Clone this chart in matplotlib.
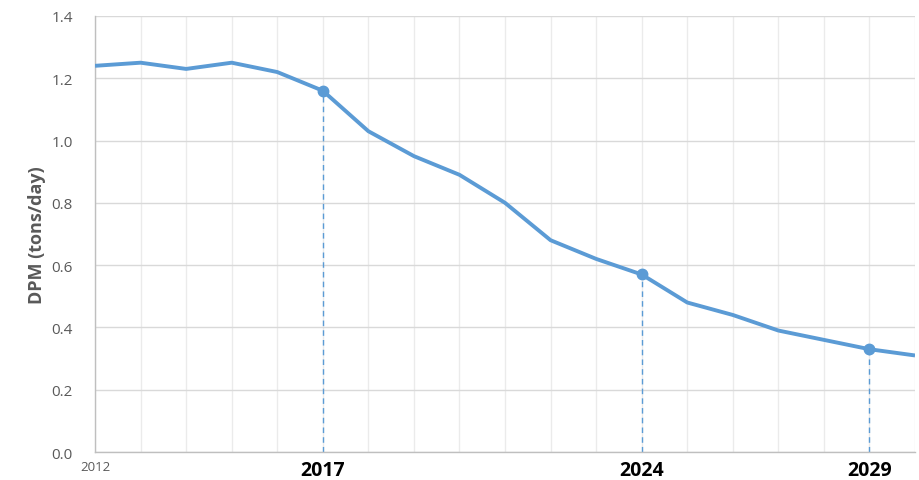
import numpy as np
import matplotlib.pyplot as plt
import matplotlib.ticker as mticker

plt.rcParams['font.family'] = ['Open Sans', 'DejaVu Sans']

# Data
years = [2012, 2013, 2014, 2015, 2016, 2017, 2018, 2019, 2020, 2021,
         2022, 2023, 2024, 2025, 2026, 2027, 2028, 2029, 2030]
dpm = [1.24, 1.25, 1.23, 1.25, 1.22, 1.16, 1.03, 0.95, 0.89, 0.80,
       0.68, 0.62, 0.57, 0.48, 0.44, 0.39, 0.36, 0.33, 0.31]
highlight_years = [2017, 2024, 2029]
tick_years = [2012, 2017, 2024, 2029]

LINE = "#5B9BD5"

fig = plt.figure(figsize=(9.2, 4.81), dpi=100)
ax = fig.add_axes([0.1033, 0.0582, 0.8913, 0.9065])

ax.plot(years, dpm, color=LINE, linewidth=2.8, solid_capstyle="butt", zorder=3)

hl_vals = [dpm[years.index(y)] for y in highlight_years]
ax.plot(highlight_years, hl_vals, "o", color=LINE, markersize=7.5, zorder=4)
for y, v in zip(highlight_years, hl_vals):
    ax.plot([y, y], [0, v], color=LINE, linewidth=1, linestyle=(0, (4, 3)), zorder=2)

ax.set_xlim(2012, 2030)
ax.set_ylim(0, 1.4)
ax.yaxis.set_major_locator(mticker.MultipleLocator(0.2))
ax.yaxis.set_major_formatter(mticker.FormatStrFormatter("%.1f"))
ax.set_xticks(tick_years)
ax.set_xticks(years, minor=True)
ax.set_xticklabels([str(y) for y in tick_years])
for i, lbl in enumerate(ax.get_xticklabels()):
    if i == 0:
        lbl.set_fontsize(9.5)
        lbl.set_color("#595959")
    else:
        lbl.set_fontsize(14)
        lbl.set_fontweight("bold")
        lbl.set_color("black")

ax.grid(True, axis="y", color="#D9D9D9", linewidth=1)
ax.grid(True, axis="x", which="both", color="#EBEBEB", linewidth=1)
ax.set_axisbelow(True)
ax.tick_params(axis="both", which="both", length=0)
ax.tick_params(axis="y", labelsize=11, labelcolor="#595959", pad=16)
ax.tick_params(axis="x", pad=6)

for side in ["top", "right"]:
    ax.spines[side].set_visible(False)
for side in ["left", "bottom"]:
    ax.spines[side].set_color("#BFBFBF")
    ax.spines[side].set_linewidth(1)

ax.set_ylabel("DPM (tons/day)", fontsize=13, fontweight="bold", color="#595959", labelpad=4)

fig.savefig("out.png", dpi=100)
